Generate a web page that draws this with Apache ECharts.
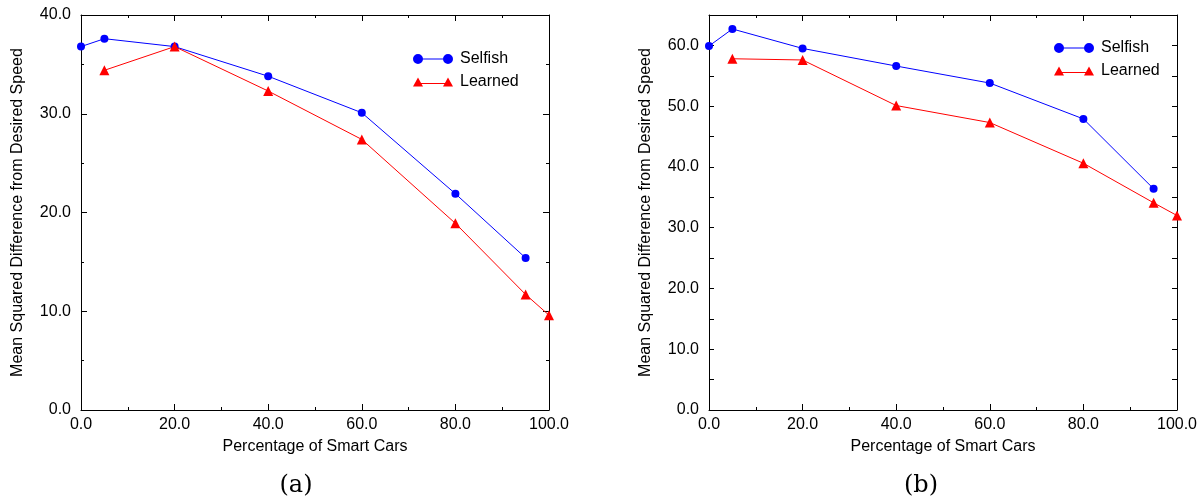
<!DOCTYPE html>
<html>
<head>
<meta charset="utf-8">
<script src="https://cdn.jsdelivr.net/npm/echarts@6/dist/echarts.min.js"></script>
<style>
  html, body { margin: 0; padding: 0; background: #fff; }
  #chart { width: 1201px; height: 499px; }
</style>
</head>
<body>
<div id="chart"></div>
<script>
  // (a) values
  var selfishX_a = [0, 5, 20, 40, 60, 80, 95];
  var selfishY_a = [36.8, 37.6, 36.8, 33.8, 30.1, 21.9, 15.4];
  var learnedX_a = [5, 20, 40, 60, 80, 95, 100];
  var learnedY_a = [34.4, 36.8, 32.3, 27.4, 18.9, 11.7, 9.6];

  // (b)
  var selfishX_b = [0, 5, 20, 40, 60, 80, 95];
  var selfishY_b = [59.9, 62.7, 59.5, 56.6, 53.8, 47.9, 36.4];
  var learnedX_b = [5, 20, 40, 60, 80, 95, 100];
  var learnedY_b = [57.8, 57.6, 50.1, 47.3, 40.6, 34.1, 32.0];

  var yMax_a = 40;
  var yMax_b = 65;
  var captions = ['(a)', '(b)'];

  var FONT = 'Liberation Sans, Arial, sans-serif';
  var colors = ['#0000ff', '#ff0000'];

  function pairs(xs, ys) {
    var out = [];
    for (var i = 0; i < xs.length; i++) out.push([xs[i], ys[i]]);
    return out;
  }

  // legend icons: line with a marker at each end
  var circleIcon = 'path://M0,5A5,5 0 1,1 10,5A5,5 0 1,1 0,5Z M30,5A5,5 0 1,1 40,5A5,5 0 1,1 30,5Z M5,4.5L35,4.5L35,5.5L5,5.5Z';
  var triIcon = 'path://M0,9L5,0L10,9Z M30,9L35,0L40,9Z M5,5.5L35,5.5L35,6.5L5,6.5Z';

  function xAxisDef(grid, top) {
    return {
      type: 'value', gridIndex: grid, min: 0, max: 100, interval: 20,
      position: top ? 'top' : 'bottom',
      axisLine: { show: true, onZero: false, lineStyle: { color: '#000', width: 1 } },
      axisTick: { show: true, inside: true, length: 6, lineStyle: { color: '#000' } },
      minorTick: { show: true, splitNumber: 2, length: 3, lineStyle: { color: '#000' } },
      splitLine: { show: false },
      axisLabel: {
        show: !top, color: '#000', fontFamily: FONT, fontSize: 16, margin: 7,
        formatter: function (v) { return v.toFixed(1); }
      },
      name: top ? '' : 'Percentage of Smart Cars',
      nameLocation: 'middle', nameGap: 29,
      nameTextStyle: { color: '#000', fontFamily: FONT, fontSize: 16 }
    };
  }

  function yAxisDef(grid, max, right) {
    var useMinor = (max % 10 === 0);
    return {
      type: 'value', gridIndex: grid, min: 0, max: max, interval: useMinor ? 10 : 5,
      position: right ? 'right' : 'left',
      axisLine: { show: true, onZero: false, lineStyle: { color: '#000', width: 1 } },
      axisTick: { show: true, inside: true, length: useMinor ? 6 : 5, lineStyle: { color: '#000' } },
      minorTick: { show: useMinor, splitNumber: 2, length: 3, lineStyle: { color: '#000' } },
      splitLine: { show: false },
      axisLabel: {
        show: !right, color: '#000', fontFamily: FONT, fontSize: 16, margin: 10,
        formatter: function (v) {
          if (v % 10 !== 0 || v > 60) return '';
          return v.toFixed(1);
        }
      },
      name: right ? '' : 'Mean Squared Difference from Desired Speed',
      nameLocation: 'middle', nameGap: 55,
      nameTextStyle: { color: '#000', fontFamily: FONT, fontSize: 16 }
    };
  }

  function lineSeries(name, grid, data, symbol, color, size) {
    return {
      name: name, type: 'line', xAxisIndex: grid * 2, yAxisIndex: grid * 2,
      data: data, symbol: symbol, symbolSize: size, clip: false,
      lineStyle: { color: color, width: 1 },
      itemStyle: { color: color },
      emphasis: { disabled: true },
      animation: false
    };
  }

  function legendDef(left, top, names) {
    return {
      left: left, top: top, orient: 'vertical', itemGap: 7, itemWidth: 40, itemHeight: 10,
      textStyle: { color: '#000', fontFamily: FONT, fontSize: 16, padding: [0, 0, 0, 2] },
      formatter: function (n) { return n.replace(' b', ''); },
      data: [{ name: names[0], icon: circleIcon }, { name: names[1], icon: triIcon }]
    };
  }

  var chart = echarts.init(document.getElementById('chart'));
  chart.setOption({
    animation: false,
    grid: [
      { left: 81, top: 15, width: 468, height: 395 },
      { left: 709, top: 15, width: 468, height: 395 }
    ],
    xAxis: [xAxisDef(0, false), xAxisDef(0, true), xAxisDef(1, false), xAxisDef(1, true)],
    yAxis: [yAxisDef(0, yMax_a, false), yAxisDef(0, yMax_a, true), yAxisDef(1, yMax_b, false), yAxisDef(1, yMax_b, true)],
    legend: [
      legendDef(408, 46, ['Selfish', 'Learned']),
      legendDef(1049, 35, ['Selfish b', 'Learned b'])
    ],
    series: [
      lineSeries('Selfish', 0, pairs(selfishX_a, selfishY_a), 'circle', colors[0], 8),
      lineSeries('Learned', 0, pairs(learnedX_a, learnedY_a), 'triangle', colors[1], 10),
      lineSeries('Selfish b', 1, pairs(selfishX_b, selfishY_b), 'circle', colors[0], 8),
      lineSeries('Learned b', 1, pairs(learnedX_b, learnedY_b), 'triangle', colors[1], 10)
    ],
    graphic: [
      { type: 'text', x: 296, y: 486, style: { text: captions[0], fill: '#000', font: '24px "DejaVu Serif", serif', align: 'center', verticalAlign: 'middle' } },
      { type: 'text', x: 921, y: 486, style: { text: captions[1], fill: '#000', font: '24px "DejaVu Serif", serif', align: 'center', verticalAlign: 'middle' } }
    ]
  });
</script>
</body>
</html>
